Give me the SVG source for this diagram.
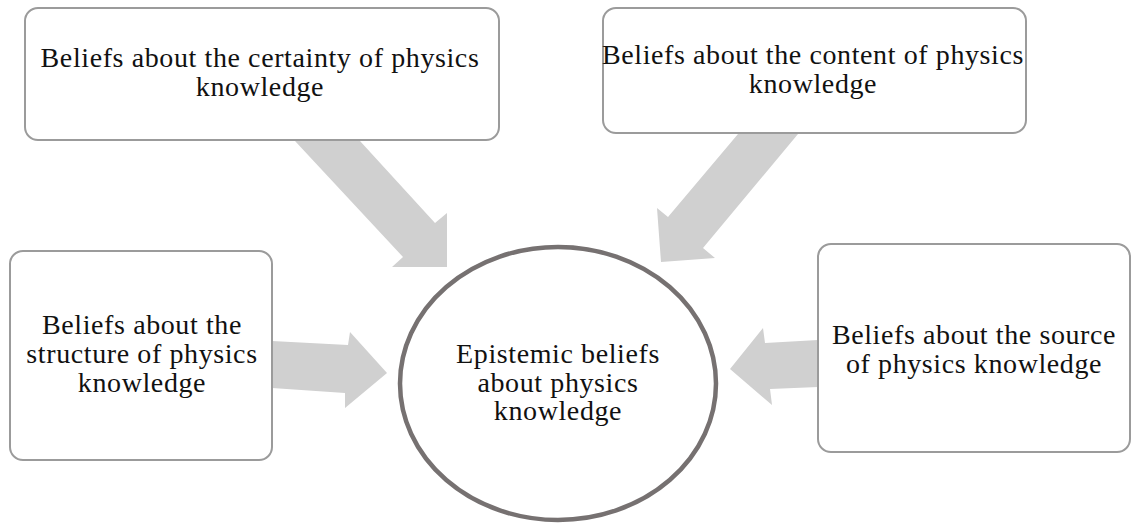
<svg xmlns="http://www.w3.org/2000/svg" width="1132" height="525" viewBox="0 0 1132 525">
<style>
.box{fill:#fff;stroke:#9b9b9b;stroke-width:2}
.hub{fill:#fff;stroke:#767171;stroke-width:4.5}
.arr{fill:#d0d0d0;stroke:none}
.t{font-family:'Liberation Serif','Times New Roman',serif;font-size:28px;letter-spacing:0.6px;fill:#111;text-anchor:middle}
</style>
<rect width="1132" height="525" fill="#fff"/>
<g id="connectors">
<polygon class="arr" points="295,141 360,141 435,223 447,213 447,267 392,267 403,257"/>
<polygon class="arr" points="738,134 798,134 703,248 715,258 661,262 657,208 668,217"/>
<polygon class="arr" points="272,341 348,345 350,332 387,373 345,408 345,393 272,388"/>
<polygon class="arr" points="818,340 765,343 763,328 730,369 772,405 770,389 818,387"/>
</g>
<g id="node-certainty">
<rect class="box" x="25" y="8" width="474" height="132" rx="13"/>
<text class="t" x="260" y="67">Beliefs about the certainty of physics</text>
<text class="t" x="260" y="96">knowledge</text>
</g>
<g id="node-content">
<rect class="box" x="603" y="8" width="423" height="125" rx="13"/>
<text class="t" x="813" y="64">Beliefs about the content of physics</text>
<text class="t" x="813" y="93">knowledge</text>
</g>
<g id="node-structure">
<rect class="box" x="10" y="251" width="262" height="209" rx="13"/>
<text class="t" x="142" y="334">Beliefs about the</text>
<text class="t" x="142" y="363">structure of physics</text>
<text class="t" x="142" y="392">knowledge</text>
</g>
<g id="node-source">
<rect class="box" x="818" y="244" width="312" height="208" rx="13"/>
<text class="t" x="974" y="344">Beliefs about the source</text>
<text class="t" x="974" y="373">of physics knowledge</text>
</g>
<g id="node-center">
<ellipse class="hub" cx="558" cy="383.5" rx="158" ry="136.5"/>
<text class="t" x="558" y="363">Epistemic beliefs</text>
<text class="t" x="558" y="392">about physics</text>
<text class="t" x="558" y="420">knowledge</text>
</g>
</svg>
